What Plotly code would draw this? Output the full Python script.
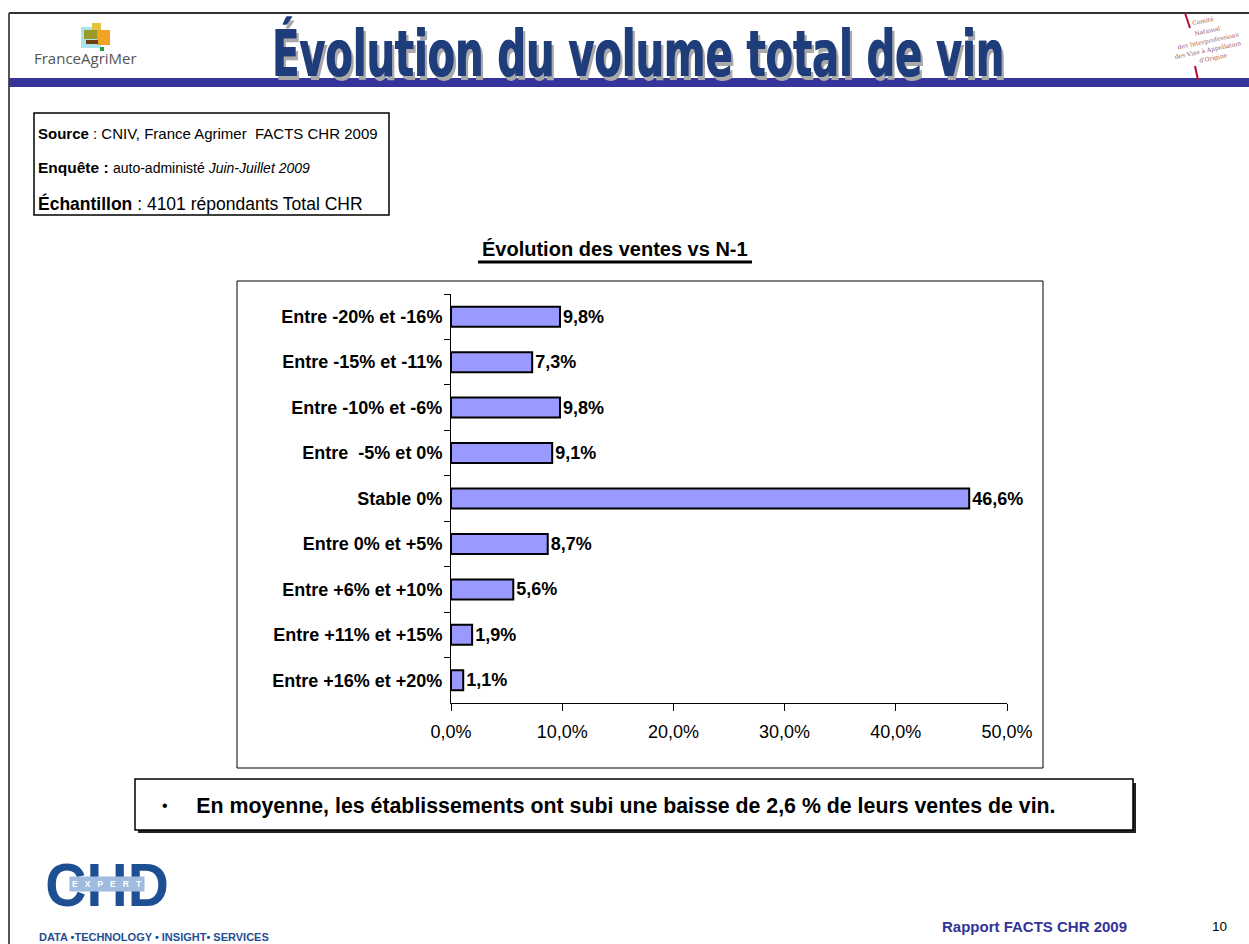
import json
import plotly.graph_objects as go

W, H = 1249, 944

# Survey results: share of respondents by change in wine sales vs previous year
categories = [
    "Entre -20% et -16%",
    "Entre -15% et -11%",
    "Entre -10% et -6%",
    "Entre  -5% et 0%",
    "Stable 0%",
    "Entre 0% et +5%",
    "Entre +6% et +10%",
    "Entre +11% et +15%",
    "Entre +16% et +20%",
]
shares = [9.8, 7.3, 9.8, 9.1, 46.6, 8.7, 5.6, 1.9, 1.1]
x_ticks = [0, 10, 20, 30, 40, 50]
x_tick_labels = [f"{v:.1f}%".replace(".", ",") for v in x_ticks]


def px(x):
    return x / W


def py(y):
    return 1 - y / H


ARIAL = "Liberation Sans, Arial, sans-serif"
HEAVY = "DejaVu Sans, sans-serif"
BLUE_TITLE = "#1f3c7b"
BAND = "#35349a"

fig = go.Figure()
fig.add_trace(go.Bar(
    y=categories,
    x=shares,
    orientation="h",
    width=0.44,
    marker=dict(color="#9999ff", line=dict(color="black", width=2)),
    texttemplate="%{x:.1f}%",
    textposition="outside",
    textfont=dict(family=ARIAL, size=18, color="black", weight="bold"),
    cliponaxis=False,
    hoverinfo="skip",
))

shapes = []


def rect(x0, y0, x1, y1, fill="white", line="black", lw=1.5):
    shapes.append(dict(type="rect", xref="paper", yref="paper",
                       x0=px(x0), x1=px(x1), y0=py(y1), y1=py(y0),
                       fillcolor=fill, line=dict(color=line, width=lw),
                       layer="below"))


def seg(x0, y0, x1, y1, color, lw):
    shapes.append(dict(type="line", xref="paper", yref="paper",
                       x0=px(x0), x1=px(x1), y0=py(y0), y1=py(y1),
                       line=dict(color=color, width=lw), layer="below"))


# page frame and header band
seg(9, 13, W, 13, "#333333", 2)
seg(9, 13, 9, H, "#555555", 2)
rect(9, 78, W, 87, fill=BAND, line=BAND, lw=0)

# FranceAgriMer emblem
rect(81, 27, 101, 48, fill="#a8e4ec", line="#a8e4ec", lw=0)
rect(92, 23, 101, 30, fill="#e3c23c", line="#e3c23c", lw=0)
rect(84, 30, 99, 39, fill="#9a9a2a", line="#9a9a2a", lw=0)
rect(97, 30, 110, 45, fill="#f2a225", line="#f2a225", lw=0)
rect(86, 40, 98, 44, fill="#6b3f12", line="#6b3f12", lw=0)
rect(100, 47, 104, 51, fill="#2e9b3a", line="#2e9b3a", lw=0)

# CNIV emblem strokes
seg(1185, 13, 1190, 28, "#b01030", 2)
seg(1195, 66, 1198, 80, "#b01030", 2)

# info box, chart frame and summary box
rect(34, 113, 389, 215)
rect(237, 281, 1043, 768, lw=1)
rect(138, 783, 1136, 833, fill="#222222", line="#222222", lw=0)
rect(135, 779, 1133, 830, lw=1.5)

# underline of the chart title
seg(478, 262, 752, 262, "black", 3)

ann = []
squeeze = {}  # annotation index -> (horizontal scale, transform origin)


def text(x, y, s, size, color="black", family=ARIAL, xanchor="left",
         yanchor="middle", angle=0, font_extra=None, scale=None, **kw):
    font = dict(size=size, color=color, family=family)
    if font_extra:
        font.update(font_extra)
    if scale:
        squeeze[str(len(ann))] = [scale, "center" if xanchor == "center"
                                  else xanchor]
    ann.append(dict(x=px(x), y=py(y), xref="paper", yref="paper", text=s,
                    showarrow=False, xanchor=xanchor, yanchor=yanchor,
                    textangle=angle, font=font, **kw))


# header
title = "Évolution du volume total de vin"
text(638, 53, f"<b>{title}</b>", 64, color=BLUE_TITLE, family=HEAVY,
     xanchor="center", scale=0.624,
     font_extra=dict(shadow="1px 0px 0px #1f3c7b, 4px 3px 0px #a9a9a9"))
text(85, 58, "FranceAgriMer", 15, color="#555555",
     family="Open Sans, sans-serif", xanchor="center")
cniv = ["Comité", "National", "des Interprofessions",
        "des Vins à Appellation", "d'Origine"]
cniv_pos = [(1203, 21), (1207, 30), (1208, 41), (1208, 50), (1213, 58)]
for s, (x, y) in zip(cniv, cniv_pos):
    text(x, y, s, 6, color="#a05a5a", family="DejaVu Serif, serif",
         xanchor="center", angle=-12)

# info box
text(36, 133, "<b>Source</b> : CNIV, France Agrimer  FACTS CHR 2009", 15)
text(36, 168, "<b>Enquête :</b> <span style='font-size:14px'>auto-administé "
     "<i>Juin-Juillet 2009</i></span>", 15.5)
text(36, 203, "<b>Échantillon</b> : 4101 répondants Total CHR", 17.5)

# chart title
text(615, 249, "<b>Évolution des ventes vs N-1</b>", 20, xanchor="center")

# summary
text(165, 805, "•", 16, xanchor="center")
text(194, 805, "<b>En moyenne, les établissements ont subi une baisse de "
     "2,6 % de leurs ventes de vin.</b>", 22, scale=0.97)

# footer
text(107, 884, "<b>CHD</b>", 62, color="#1f4f93", family=ARIAL,
     xanchor="center", scale=0.92)
text(107, 884, "<b>E   X   P   E   R   T</b>", 8.5, color="white",
     xanchor="center", bgcolor="#9fbbe0", borderpad=2)
text(37, 937, "<b>DATA •TECHNOLOGY • INSIGHT• SERVICES</b>", 11,
     color="#1f4f93")
text(940, 926, "<b>Rapport FACTS CHR 2009</b>", 15, color="#333399")
text(1210, 926, "10", 13.5)

fig.update_layout(
    width=W, height=H,
    autosize=False,
    margin=dict(l=0, r=0, t=0, b=0, pad=0, autoexpand=False),
    paper_bgcolor="white", plot_bgcolor="white",
    separators=",.",
    showlegend=False,
    shapes=shapes,
    annotations=ann,
    xaxis=dict(
        domain=[px(451), px(1007)],
        range=[0, 50],
        tickvals=x_ticks,
        ticktext=x_tick_labels,
        ticks="outside", ticklen=7, tickcolor="black",
        ticklabelstandoff=5,
        showline=True, linecolor="black", linewidth=1,
        showgrid=False, zeroline=False, automargin=False,
        tickfont=dict(family=ARIAL, size=18, color="black"),
    ),
    yaxis=dict(
        domain=[py(703), py(294)],
        type="category",
        categoryorder="array", categoryarray=categories,
        range=[8.5, -0.5],
        ticks="outside", ticklen=6, tickcolor="black", tickson="boundaries",
        ticklabelstandoff=4,
        showline=True, linecolor="black", linewidth=1,
        showgrid=False, zeroline=False, automargin=False,
        tickfont=dict(family=ARIAL, size=18, color="black", weight="bold"),
    ),
)

# condense selected annotation texts horizontally after each redraw
post_script = """
var gd = document.getElementById('{plot_id}');
var SQUEEZE = %s;
function condense() {
  gd.querySelectorAll('g.annotation').forEach(function (g) {
    var s = SQUEEZE[g.getAttribute('data-index')];
    if (!s) { return; }
    var t = g.querySelector('text.annotation-text');
    if (!t) { return; }
    t.style.transformBox = 'fill-box';
    t.style.transformOrigin = s[1] + ' center';
    t.style.transform = 'scaleX(' + s[0] + ')';
  });
}
condense();
gd.on('plotly_afterplot', condense);
""" % json.dumps(squeeze)

fig.write_html("out.html", post_script=post_script)
